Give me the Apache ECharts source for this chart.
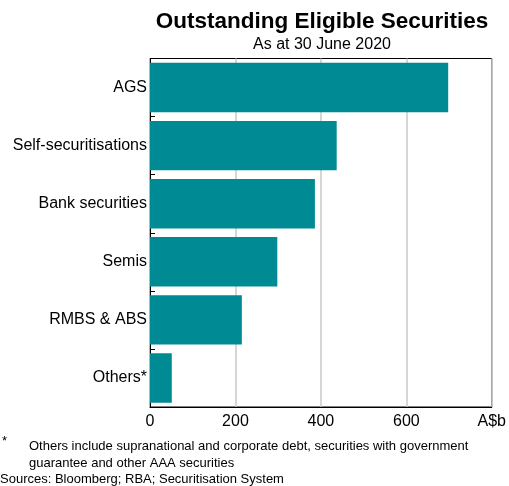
<!DOCTYPE html>
<html>
<head>
<meta charset="utf-8">
<script src="https://cdn.jsdelivr.net/npm/echarts@6/dist/echarts.min.js"></script>
<style>html,body{margin:0;padding:0;background:#fff}#c{width:509px;height:486px}</style>
</head>
<body>
<div id="c"></div>
<script>
var categories = ['AGS', 'Self-securitisations', 'Bank securities', 'Semis', 'RMBS & ABS', 'Others*'];
var values = [698, 437, 386, 298, 215, 51];
var xTicks = [0, 200, 400, 600, 800];
var unitLabel = 'A$b';

var chart = echarts.init(document.getElementById('c'), null, {renderer: 'canvas'});
var F = 'Liberation Sans, Arial, sans-serif';
chart.setOption({
  animation: false,
  backgroundColor: '#fff',
  grid: {left: 150, right: 15, top: 58.5, bottom: 79, show: true, borderColor: '#000', borderWidth: 1, backgroundColor: 'transparent'},
  xAxis: {
    type: 'value', min: xTicks[0], max: xTicks[xTicks.length - 1], interval: 200,
    axisLine: {show: true, lineStyle: {color: '#000', width: 1}},
    axisTick: {show: false},
    splitLine: {show: true, lineStyle: {color: '#c8c8c8', width: 1.5}},
    axisLabel: {color: '#000', fontFamily: F, fontSize: 16, margin: 7,
      formatter: function (v) { return v === xTicks[xTicks.length - 1] ? unitLabel : String(v); }}
  },
  yAxis: {
    type: 'category', data: categories, inverse: true,
    axisLine: {show: true, lineStyle: {color: '#000', width: 1}},
    axisTick: {show: true, inside: true, length: 5, lineStyle: {color: '#000'}},
    axisLabel: {color: '#000', fontFamily: F, fontSize: 16, margin: 3}
  },
  series: [{
    type: 'bar', data: values, barCategoryGap: '15%',
    itemStyle: {color: '#008a94'}
  }],
  graphic: [
    {type: 'text', style: {text: 'Outstanding Eligible Securities', x: 322, y: 22, fill: '#000', font: 'bold 22.5px ' + F, align: 'center', verticalAlign: 'middle'}},
    {type: 'text', style: {text: 'As at 30 June 2020', x: 322, y: 45, fill: '#000', font: '16px ' + F, align: 'center', verticalAlign: 'middle'}},
    {type: 'text', style: {text: '*', x: 2, y: 441, fill: '#000', font: '13px ' + F, verticalAlign: 'middle'}},
    {type: 'text', style: {text: 'Others include supranational and corporate debt, securities with government', x: 29, y: 446, fill: '#000', font: '13px ' + F, verticalAlign: 'middle'}},
    {type: 'text', style: {text: 'guarantee and other AAA securities', x: 29, y: 463, fill: '#000', font: '13px ' + F, verticalAlign: 'middle'}},
    {type: 'text', style: {text: 'Sources: Bloomberg; RBA; Securitisation System', x: 0, y: 479, fill: '#000', font: '13px ' + F, verticalAlign: 'middle'}}
  ]
});
</script>
</body>
</html>
